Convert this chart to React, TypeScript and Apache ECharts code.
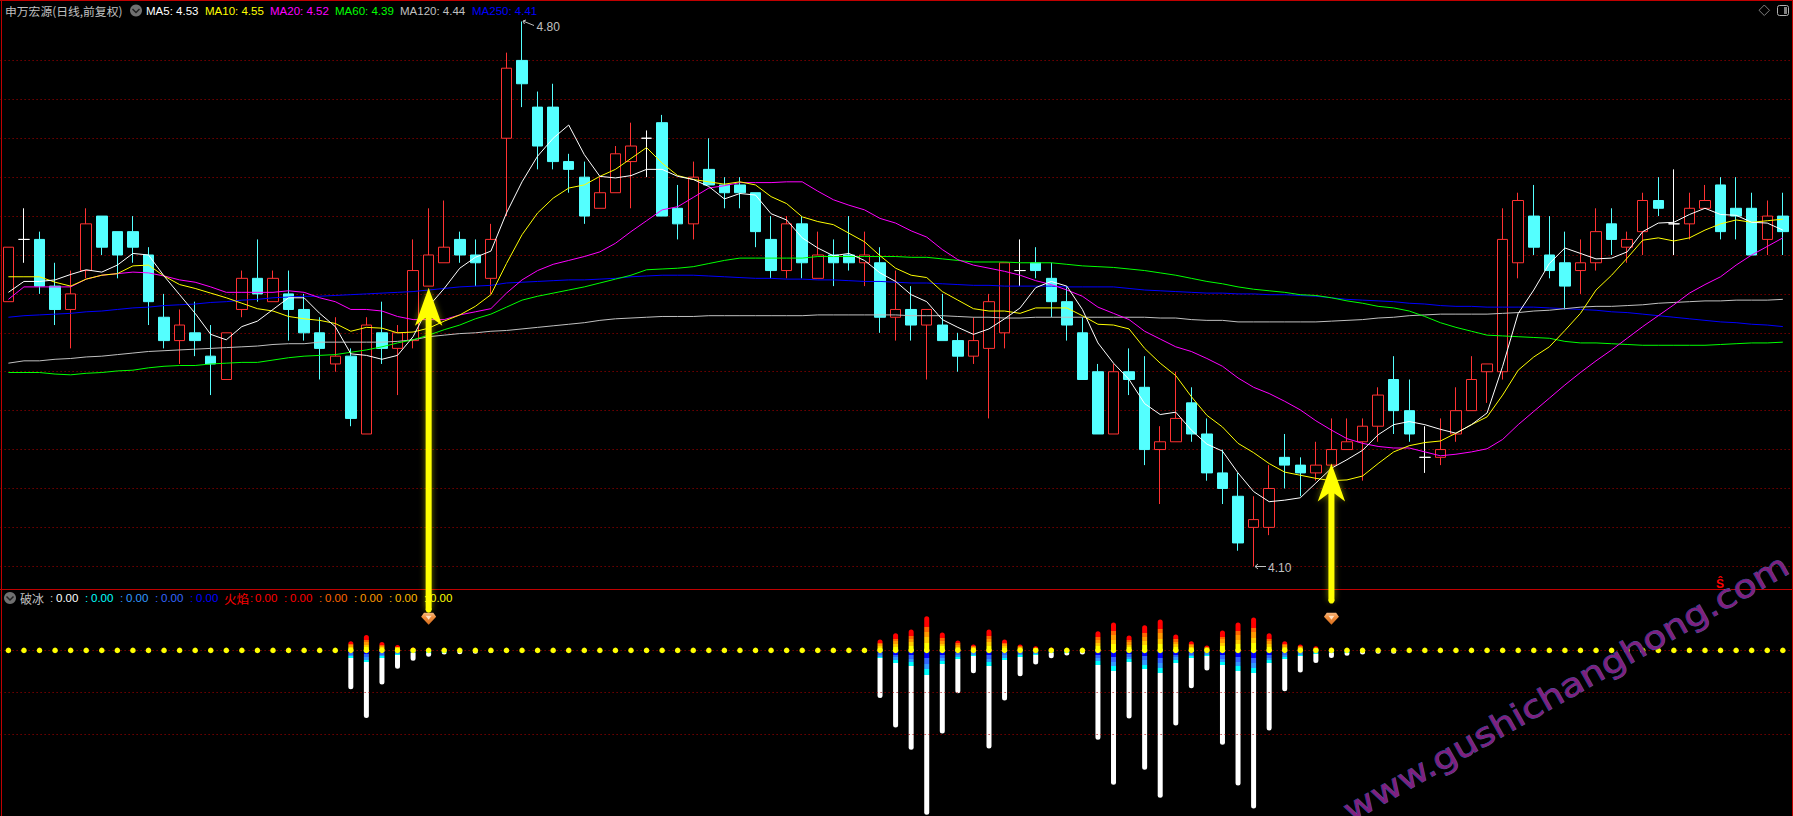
import React, { useEffect, useRef } from "react";
import * as echarts from "echarts";

const open = [4.44,4.52,4.52,4.46,4.43,4.48,4.55,4.53,4.53,4.50,4.42,4.39,4.40,4.37,4.34,4.43,4.47,4.44,4.45,4.43,4.40,4.36,4.37,4.27,4.40,4.38,4.39,4.46,4.49,4.52,4.50,4.47,4.65,4.75,4.69,4.69,4.62,4.60,4.56,4.58,4.62,4.65,4.67,4.56,4.54,4.61,4.59,4.59,4.58,4.52,4.48,4.54,4.47,4.50,4.50,4.49,4.49,4.42,4.43,4.41,4.41,4.39,4.37,4.38,4.40,4.48,4.49,4.47,4.44,4.40,4.35,4.27,4.35,4.33,4.25,4.26,4.31,4.27,4.22,4.19,4.15,4.15,4.24,4.23,4.22,4.23,4.25,4.26,4.28,4.34,4.30,4.24,4.24,4.27,4.30,4.35,4.35,4.49,4.55,4.50,4.49,4.48,4.49,4.54,4.51,4.53,4.57,4.54,4.54,4.56,4.59,4.56,4.56,4.52,4.55];
const close = [4.51,4.52,4.46,4.43,4.45,4.54,4.51,4.50,4.51,4.44,4.39,4.41,4.39,4.36,4.40,4.47,4.45,4.47,4.43,4.40,4.38,4.37,4.29,4.41,4.38,4.40,4.48,4.50,4.51,4.50,4.49,4.52,4.74,4.72,4.64,4.62,4.61,4.55,4.58,4.63,4.64,4.65,4.55,4.54,4.60,4.59,4.58,4.58,4.53,4.48,4.54,4.49,4.50,4.49,4.49,4.50,4.42,4.43,4.41,4.43,4.39,4.37,4.39,4.44,4.49,4.48,4.48,4.44,4.41,4.34,4.27,4.35,4.34,4.25,4.26,4.29,4.27,4.22,4.20,4.13,4.16,4.20,4.23,4.22,4.23,4.25,4.26,4.28,4.32,4.30,4.27,4.24,4.25,4.30,4.34,4.36,4.52,4.57,4.51,4.48,4.46,4.49,4.53,4.52,4.52,4.57,4.56,4.54,4.56,4.57,4.53,4.55,4.50,4.55,4.53];
const low = [4.44,4.49,4.45,4.41,4.38,4.47,4.50,4.47,4.49,4.41,4.38,4.36,4.37,4.32,4.34,4.42,4.44,4.44,4.39,4.39,4.34,4.35,4.28,4.27,4.36,4.32,4.38,4.46,4.49,4.49,4.46,4.45,4.55,4.69,4.61,4.61,4.58,4.54,4.56,4.58,4.56,4.60,4.55,4.52,4.52,4.59,4.56,4.56,4.51,4.47,4.47,4.47,4.47,4.46,4.48,4.46,4.40,4.39,4.39,4.34,4.39,4.35,4.36,4.29,4.38,4.46,4.47,4.42,4.39,4.34,4.27,4.27,4.32,4.23,4.18,4.26,4.26,4.21,4.18,4.12,4.10,4.14,4.20,4.19,4.21,4.23,4.25,4.21,4.26,4.27,4.26,4.22,4.23,4.26,4.30,4.31,4.34,4.47,4.50,4.47,4.43,4.45,4.48,4.50,4.49,4.50,4.55,4.50,4.52,4.56,4.52,4.52,4.50,4.50,4.50];
const high = [4.51,4.56,4.53,4.49,4.48,4.56,4.55,4.53,4.55,4.51,4.45,4.43,4.44,4.41,4.40,4.48,4.52,4.48,4.48,4.45,4.42,4.42,4.38,4.42,4.44,4.41,4.52,4.56,4.57,4.53,4.52,4.54,4.76,4.80,4.71,4.72,4.63,4.62,4.60,4.64,4.67,4.66,4.68,4.59,4.62,4.65,4.60,4.60,4.58,4.55,4.55,4.55,4.53,4.52,4.55,4.53,4.51,4.48,4.46,4.43,4.45,4.40,4.42,4.45,4.49,4.52,4.51,4.49,4.46,4.42,4.36,4.36,4.38,4.37,4.28,4.35,4.33,4.29,4.25,4.22,4.19,4.23,4.27,4.24,4.26,4.29,4.29,4.29,4.33,4.37,4.34,4.28,4.29,4.33,4.37,4.36,4.56,4.58,4.59,4.55,4.53,4.52,4.56,4.56,4.53,4.58,4.60,4.61,4.58,4.59,4.60,4.60,4.58,4.57,4.58];

const ma5 = [4.452,4.466,4.466,4.468,4.475,4.481,4.478,4.487,4.502,4.5,4.473,4.449,4.425,4.398,4.391,4.408,4.415,4.43,4.445,4.445,4.425,4.408,4.373,4.371,4.366,4.371,4.395,4.434,4.457,4.483,4.497,4.505,4.554,4.594,4.627,4.65,4.667,4.629,4.601,4.599,4.602,4.61,4.61,4.601,4.597,4.588,4.572,4.579,4.577,4.553,4.545,4.522,4.509,4.499,4.502,4.493,4.477,4.466,4.449,4.44,4.417,4.407,4.398,4.405,4.418,4.432,4.458,4.466,4.46,4.43,4.387,4.361,4.34,4.309,4.295,4.298,4.275,4.257,4.248,4.22,4.196,4.183,4.185,4.188,4.207,4.226,4.237,4.249,4.269,4.282,4.286,4.282,4.276,4.271,4.282,4.297,4.357,4.425,4.455,4.489,4.509,4.502,4.495,4.496,4.504,4.53,4.541,4.542,4.552,4.56,4.552,4.551,4.542,4.541,4.532];
const ma10 = [4.472,4.472,4.472,4.465,4.46,4.469,4.474,4.476,4.486,4.487,4.473,4.462,4.457,4.451,4.445,4.438,4.431,4.428,4.421,4.418,4.416,4.412,4.402,4.407,4.406,4.4,4.401,4.406,4.415,4.423,4.434,4.449,4.489,4.526,4.554,4.573,4.586,4.59,4.601,4.61,4.624,4.638,4.618,4.602,4.597,4.594,4.591,4.594,4.59,4.575,4.566,4.549,4.543,4.539,4.528,4.517,4.499,4.483,4.474,4.471,4.453,4.442,4.431,4.428,4.428,4.425,4.432,4.432,4.432,4.422,4.411,4.41,4.405,4.38,4.361,4.345,4.318,4.294,4.279,4.258,4.246,4.232,4.221,4.217,4.213,4.21,4.211,4.216,4.232,4.247,4.255,4.259,4.261,4.271,4.282,4.292,4.32,4.352,4.369,4.382,4.403,4.425,4.455,4.474,4.496,4.519,4.522,4.518,4.522,4.532,4.54,4.545,4.542,4.544,4.546];
const ma20 = [4.443,4.459,4.459,4.459,4.459,4.469,4.474,4.476,4.478,4.477,4.473,4.468,4.465,4.459,4.452,4.452,4.452,4.452,4.454,4.452,4.445,4.44,4.43,4.43,4.428,4.421,4.417,4.417,4.417,4.423,4.427,4.431,4.451,4.468,4.48,4.488,4.493,4.498,4.504,4.515,4.53,4.544,4.558,4.562,4.574,4.586,4.589,4.593,4.593,4.593,4.594,4.594,4.582,4.571,4.564,4.558,4.547,4.541,4.531,4.523,4.507,4.494,4.487,4.483,4.479,4.474,4.467,4.462,4.455,4.447,4.433,4.425,4.417,4.402,4.392,4.382,4.376,4.367,4.357,4.342,4.33,4.322,4.312,4.301,4.287,4.275,4.264,4.258,4.254,4.252,4.252,4.247,4.242,4.244,4.247,4.251,4.263,4.282,4.299,4.316,4.333,4.349,4.364,4.378,4.393,4.408,4.422,4.436,4.451,4.462,4.472,4.487,4.5,4.511,4.522];
const ma60 = [4.349,4.349,4.349,4.347,4.346,4.348,4.349,4.351,4.352,4.355,4.357,4.358,4.358,4.36,4.361,4.362,4.362,4.365,4.368,4.37,4.371,4.372,4.375,4.378,4.382,4.387,4.391,4.397,4.404,4.41,4.418,4.424,4.433,4.442,4.447,4.451,4.455,4.459,4.464,4.469,4.474,4.481,4.482,4.483,4.485,4.489,4.493,4.496,4.496,4.496,4.496,4.496,4.498,4.498,4.498,4.498,4.498,4.498,4.497,4.497,4.495,4.493,4.491,4.491,4.491,4.49,4.49,4.49,4.488,4.486,4.485,4.484,4.482,4.48,4.477,4.474,4.47,4.466,4.463,4.459,4.456,4.454,4.452,4.449,4.448,4.445,4.441,4.438,4.434,4.432,4.428,4.421,4.413,4.407,4.402,4.397,4.396,4.395,4.394,4.393,4.389,4.387,4.387,4.386,4.385,4.384,4.384,4.384,4.384,4.384,4.385,4.386,4.387,4.387,4.388];
const ma120 = [4.361,4.364,4.364,4.366,4.367,4.369,4.37,4.372,4.374,4.376,4.377,4.378,4.379,4.38,4.381,4.382,4.383,4.385,4.386,4.386,4.388,4.388,4.388,4.388,4.388,4.389,4.391,4.395,4.397,4.399,4.4,4.402,4.403,4.405,4.407,4.409,4.411,4.413,4.416,4.418,4.419,4.42,4.421,4.421,4.421,4.422,4.422,4.422,4.422,4.422,4.422,4.422,4.423,4.423,4.423,4.423,4.423,4.423,4.422,4.422,4.422,4.421,4.42,4.42,4.419,4.419,4.42,4.42,4.42,4.42,4.42,4.42,4.42,4.42,4.419,4.419,4.417,4.416,4.416,4.414,4.414,4.414,4.414,4.414,4.414,4.415,4.416,4.417,4.419,4.42,4.422,4.423,4.424,4.424,4.424,4.424,4.425,4.426,4.428,4.429,4.431,4.433,4.434,4.434,4.435,4.436,4.438,4.439,4.44,4.441,4.441,4.442,4.442,4.442,4.443];
const ma250 = [4.42,4.422,4.423,4.424,4.425,4.427,4.428,4.43,4.432,4.433,4.435,4.436,4.437,4.439,4.44,4.442,4.443,4.445,4.446,4.447,4.447,4.448,4.449,4.45,4.451,4.452,4.453,4.455,4.457,4.459,4.46,4.461,4.464,4.465,4.466,4.467,4.468,4.468,4.469,4.47,4.472,4.473,4.474,4.474,4.474,4.473,4.472,4.471,4.47,4.47,4.469,4.469,4.468,4.468,4.467,4.466,4.466,4.465,4.464,4.464,4.463,4.462,4.461,4.461,4.46,4.46,4.46,4.46,4.459,4.459,4.459,4.459,4.457,4.455,4.454,4.453,4.452,4.451,4.451,4.45,4.45,4.449,4.449,4.448,4.447,4.445,4.443,4.442,4.441,4.44,4.438,4.437,4.435,4.434,4.434,4.433,4.433,4.433,4.433,4.432,4.431,4.43,4.429,4.427,4.426,4.424,4.422,4.42,4.418,4.416,4.414,4.413,4.411,4.41,4.408];

const dojiIndex = [1, 41, 65, 91, 107];

// lower panel: 破冰 / 火焰 columns
const barIndex = [22,23,24,25,26,27,28,29,30,31,56,57,58,59,60,61,62,63,64,65,66,67,68,69,70,71,72,73,74,75,76,77,78,79,80,81,82,83,84,85,86,87,88,89];
const fireValues = [2.2,3.7,2.0,1.3,0.7,0.6,0.5,0,0,0,2.6,4.1,5.0,8.2,4.3,2.4,1.4,5.0,2.6,1.4,1.0,0.7,0.5,0.4,4.6,6.7,3.6,6.0,7.4,3.8,2.2,1.2,4.8,6.7,7.9,4.1,2.2,1.4,1.0,0.7,0.5,0,0,0];
const iceValues = [9.3,16.2,8.2,4.4,2.5,1.5,1.0,0.9,0.8,0.6,11.4,18.5,23.8,39.4,19.9,10.3,5.5,23.5,12.0,6.2,3.4,1.9,1.2,1.0,21.4,32.2,16.3,28.6,35.3,18.0,9.1,4.8,22.6,32.4,37.9,19.2,9.8,5.3,3.0,1.8,1.3,1.0,0.8,0.8];
const iceColoured = [1.8,2.8,1.8,1.1,0.7,0.6,0.6,0.5,0.5,0.4,1.9,3.0,3.7,5.8,3.2,2.0,1.3,3.7,2.2,1.5,1.0,0.7,0.6,0.5,3.4,4.9,2.7,4.4,5.4,3.0,1.8,1.3,3.6,4.9,5.5,3.1,2.0,1.3,0.9,0.7,0.6,0.5,0.4,0.4];
const markerIndex = [27, 85];
const markerLevel = 7.6;
const arrowTips = [4.458, 4.232];
const arrowTails = [322, 137];

const legendMA = [
  { text: "MA5: 4.53", x: 146, color: "#FFFFFF" },
  { text: "MA10: 4.55", x: 205, color: "#FFFF00" },
  { text: "MA20: 4.52", x: 270, color: "#FF00FF" },
  { text: "MA60: 4.39", x: 335, color: "#00FF00" },
  { text: "MA120: 4.44", x: 400, color: "#C0C0C0" },
  { text: "MA250: 4.41", x: 472, color: "#0000FF" },
];
const legendIce = [
  { text: "0.00", x: 56, color: "#FFFFFF" },
  { text: "0.00", x: 91, color: "#00FFFF" },
  { text: "0.00", x: 126, color: "#3399FF" },
  { text: "0.00", x: 161, color: "#3366FF" },
  { text: "0.00", x: 196, color: "#0000FF" },
];
const legendFire = [
  { text: "0.00", x: 255, color: "#FF0000" },
  { text: "0.00", x: 290, color: "#FF0000" },
  { text: "0.00", x: 325, color: "#FF6600" },
  { text: "0.00", x: 360, color: "#FF9900" },
  { text: "0.00", x: 395, color: "#FFBB00" },
  { text: "0.00", x: 430, color: "#FFFF00" },
];

const categories = open.map((_, i) => String(i + 1));
const RED = "#FF3232";
const CYAN = "#54FFFF";
const GRID_RED = "#B00000";
const LATIN = '"Liberation Sans", Arial, sans-serif';
const CJK = '"Noto Sans CJK SC", sans-serif';

function hardStops(stops: [number, string][]) {
  const out: { offset: number; color: string }[] = [];
  let from = 0;
  for (const [to, color] of stops) {
    out.push({ offset: from, color }, { offset: to, color });
    from = to;
  }
  return out;
}

function fireColor() {
  return new echarts.graphic.LinearGradient(0, 0, 0, 1, hardStops([
    [0.31, "#FF0000"], [0.45, "#FF6600"], [0.62, "#FF9900"], [0.78, "#FFCC00"], [1, "#FFFF00"],
  ]));
}
function iceColor(total: number, coloured: number) {
  const f = Math.min(1, coloured / total);
  return new echarts.graphic.LinearGradient(0, 0, 0, 1, hardStops([
    [f * 0.33, "#0000FF"], [f * 0.55, "#3366FF"], [f * 0.78, "#3399FF"], [f, "#00FFFF"], [1, "#FFFFFF"],
  ]));
}

function label(text: string, x: number, y: number, fill: string, font = `12px ${LATIN}`, extra: any = {}) {
  return { type: "text", x, y, z: 5, silent: true, style: { text, fill, font, textVerticalAlign: "middle", textBaseline: "middle" }, ...extra };
}
function rule(x1: number, y1: number, x2: number, y2: number, stroke: string, lineWidth = 1) {
  return { type: "line", z: 4, silent: true, shape: { x1, y1, x2, y2 }, style: { stroke, lineWidth } };
}

function lineSeries(name: string, data: number[], color: string) {
  return {
    name, type: "line", data, xAxisIndex: 0, yAxisIndex: 0, showSymbol: false, symbol: "none",
    smooth: false, clip: false, z: 4, silent: true, lineStyle: { color, width: 1 },
  };
}

export default function App() {
  const ref = useRef<HTMLDivElement>(null);
  useEffect(() => {
    document.body.style.margin = "0";
    document.body.style.background = "#000";
    const chart = echarts.init(ref.current!, null, { renderer: "svg" });

    const candleData = open.map((o, i) => {
      const value = [o, close[i], low[i], high[i]];
      if (dojiIndex.includes(i)) {
        return { value, itemStyle: { color: "#FFFFFF", color0: "#FFFFFF", borderColor: "#FFFFFF", borderColor0: "#FFFFFF", borderColorDoji: "#FFFFFF" } };
      }
      return value;
    });
    const fireSeries: any[] = categories.map(() => null);
    const iceSeries: any[] = categories.map(() => null);
    barIndex.forEach((idx, k) => {
      if (fireValues[k] > 0) fireSeries[idx] = { value: fireValues[k], itemStyle: { color: fireColor() } };
      iceSeries[idx] = { value: -iceValues[k], itemStyle: { color: iceColor(iceValues[k], iceColoured[k]) } };
    });

    const graphicEls: any[] = [
      // frame
      rule(0, 0.5, 1793, 0.5, "#C00000"),
      rule(1.5, 0, 1.5, 816, "#C00000"),
      rule(1792.5, 0, 1792.5, 816, "#C00000"),
      rule(0, 589.5, 1793, 589.5, "#C00000"),
      // header
      label("申万宏源(日线,前复权)", 5, 10.5, "#C0C0C0", `11.8px ${CJK}`),
      { type: "circle", z: 5, silent: true, shape: { cx: 136, cy: 10.5, r: 6 }, style: { fill: "#707070" } },
      { type: "polyline", z: 6, silent: true, shape: { points: [[132.5, 9], [136, 12.5], [139.5, 9]] }, style: { stroke: "#202020", lineWidth: 1.5, fill: "none" } },
      ...legendMA.map((m) => label(m.text, m.x, 10.5, m.color, `11.5px ${LATIN}`)),
      // top right icons
      { type: "polygon", z: 5, silent: true, shape: { points: [[1764.3, 5], [1769.5, 10.3], [1764.3, 15.5], [1759, 10.3]] }, style: { stroke: "#808080", fill: "none", lineWidth: 1 } },
      { type: "rect", z: 5, silent: true, shape: { x: 1777.5, y: 5.5, width: 11, height: 10, r: 2 }, style: { stroke: "#B0B0B0", fill: "none", lineWidth: 1 } },
      { type: "rect", z: 5, silent: true, shape: { x: 1784, y: 7, width: 3, height: 7 }, style: { fill: "#808080" } },
      // lower header
      { type: "circle", z: 5, silent: true, shape: { cx: 10, cy: 598, r: 6 }, style: { fill: "#707070" } },
      { type: "polyline", z: 6, silent: true, shape: { points: [[6.5, 596.5], [10, 600], [13.5, 596.5]] }, style: { stroke: "#202020", lineWidth: 1.5, fill: "none" } },
      label("破冰", 20, 598, "#C0C0C0", `12px ${CJK}`),
      label(":", 50, 598, "#C0C0C0", `11.5px ${LATIN}`),
      ...legendIce.flatMap((m) => [label(":", m.x - 6, 598, m.color, `11.5px ${LATIN}`), label(m.text, m.x, 598, m.color, `11.5px ${LATIN}`)]).slice(1),
      label("火焰", 224, 598, "#FF0000", `12.5px ${CJK}`),
      label(":", 250, 598, "#FF0000", `11.5px ${LATIN}`),
      ...legendFire.flatMap((m) => [label(":", m.x - 6, 598, m.color, `11.5px ${LATIN}`), label(m.text, m.x, 598, m.color, `11.5px ${LATIN}`)]).slice(1),
      // extreme price labels
      label("4.80", 536.5, 27, "#C0C0C0", `12px ${LATIN}`),
      rule(523, 21, 534, 25.5, "#C0C0C0"),
      { type: "polyline", z: 5, silent: true, shape: { points: [[526, 20], [523, 21], [524.5, 24]] }, style: { stroke: "#C0C0C0", fill: "none", lineWidth: 1 } },
      label("4.10", 1268, 568, "#C0C0C0", `12px ${LATIN}`),
      rule(1255, 566.5, 1266, 566.5, "#C0C0C0"),
      { type: "polyline", z: 5, silent: true, shape: { points: [[1258, 564], [1255, 566.5], [1258, 569]] }, style: { stroke: "#C0C0C0", fill: "none", lineWidth: 1 } },
      label("Ŝ", 1716, 584, "#FF0000", `bold 12px ${LATIN}`),
      // site watermark
      {
        type: "text", z: 50, silent: true, x: 1566, y: 688, rotation: 0.517, scaleX: 1.18, scaleY: 1,
        style: {
          text: "www.gushichanghong.com", fill: "#80207F", stroke: "#3E5AA8", lineWidth: 0.8,
          font: `32px "DejaVu Sans", sans-serif`, textAlign: "center", textVerticalAlign: "middle", textBaseline: "middle",
        },
      },
    ];

    chart.setOption({
      animation: false,
      backgroundColor: "#000000",
      grid: [
        { left: 0.6, top: 21.5, width: 1790, height: 544.8 },
        { left: 0.6, top: 589.5, width: 1790, height: 226.5 },
      ],
      xAxis: [
        { type: "category", gridIndex: 0, data: categories, show: false, boundaryGap: true },
        { type: "category", gridIndex: 1, data: categories, show: false, boundaryGap: true },
      ],
      yAxis: [
        {
          type: "value", gridIndex: 0, min: 4.1, max: 4.8, interval: 0.05, scale: true,
          axisLine: { show: false }, axisTick: { show: false }, axisLabel: { show: false },
          splitLine: { show: true, showMaxLine: false, lineStyle: { color: GRID_RED, type: [1, 3], width: 1 } },
        },
        {
          type: "value", gridIndex: 1, min: -39.7, max: 14.6,
          axisLine: { show: false }, axisTick: { show: false }, axisLabel: { show: false }, splitLine: { show: false },
        },
      ],
      series: [
        {
          type: "candlestick", xAxisIndex: 0, yAxisIndex: 0, data: candleData, barWidth: 11, clip: false, z: 3, silent: true,
          itemStyle: { color: "#000000", color0: CYAN, borderColor: RED, borderColor0: CYAN, borderWidth: 1 },
        },
        lineSeries("MA250", ma250, "#0000FF"),
        lineSeries("MA120", ma120, "#C0C0C0"),
        lineSeries("MA60", ma60, "#00FF00"),
        lineSeries("MA20", ma20, "#FF00FF"),
        lineSeries("MA10", ma10, "#FFFF00"),
        lineSeries("MA5", ma5, "#FFFFFF"),
        {
          type: "custom", xAxisIndex: 0, yAxisIndex: 0, z: 20, silent: true, clip: false,
          data: markerIndex.map((idx, k) => [idx, arrowTips[k], arrowTails[k]]),
          encode: { x: 0, y: 1 },
          renderItem: (_: any, api: any) => {
            const [x, y] = api.coord([api.value(0), api.value(1)]);
            const tail = api.value(2);
            const glow = { fill: "#FFFF00", shadowBlur: 6, shadowColor: "rgba(255,255,0,0.45)" };
            return {
              type: "group",
              children: [
                {
                  type: "polygon",
                  shape: {
                    points: [
                      [x, y], [x + 13.7, y + 38], [x + 3, y + 30], [x + 3, y + tail],
                      [x - 3, y + tail], [x - 3, y + 30], [x - 13.7, y + 38],
                    ],
                  },
                  style: glow,
                },
                { type: "circle", shape: { cx: x, cy: y + tail, r: 3 }, style: { fill: "#FFFF00" } },
              ],
            };
          },
        },
        {
          type: "bar", xAxisIndex: 1, yAxisIndex: 1, data: iceSeries, barWidth: 5, barGap: "-100%", z: 3, silent: true,
          itemStyle: { borderRadius: [0, 0, 2.5, 2.5] },
          markLine: {
            silent: true, symbol: "none", label: { show: false }, animation: false,
            lineStyle: { color: GRID_RED, type: [1, 3], width: 1 },
            data: [{ yAxis: 0 }, { yAxis: -10 }, { yAxis: -20 }],
          },
        },
        {
          type: "bar", xAxisIndex: 1, yAxisIndex: 1, data: fireSeries, barWidth: 5, barGap: "-100%", z: 4, silent: true,
          itemStyle: { borderRadius: [2.5, 2.5, 0, 0] },
        },
        {
          type: "scatter", xAxisIndex: 1, yAxisIndex: 1, data: categories.map((_, i) => [i, 0]), symbol: "circle",
          symbolSize: 5.5, z: 6, silent: true, itemStyle: { color: "#FFFF00", opacity: 1 },
        },
        {
          type: "scatter", xAxisIndex: 1, yAxisIndex: 1, data: markerIndex.map((i) => [i, markerLevel]),
          symbol: "path://M3,0 L13,0 L16,4 L8,12 L0,4 Z", symbolSize: [15, 12], z: 7, silent: true, clip: false,
          itemStyle: {
            opacity: 1,
            color: new echarts.graphic.LinearGradient(0, 0, 0, 1, [
              { offset: 0, color: "#F5B880" }, { offset: 0.4, color: "#EE8C3C" }, { offset: 1, color: "#D8701E" },
            ]),
          },
        },
        {
          type: "scatter", xAxisIndex: 1, yAxisIndex: 1, data: markerIndex.map((i) => [i, markerLevel + 0.25]),
          symbol: "path://M2,0 L8,0 L5,4 Z", symbolSize: [6, 4], z: 8, silent: true, clip: false,
          itemStyle: { color: "#FFE0C0", opacity: 1 },
        },
      ],
      graphic: { elements: graphicEls },
    });
    return () => chart.dispose();
  }, []);
  return <div ref={ref} style={{ position: "fixed", left: 0, top: 0, width: 1793, height: 816, background: "#000" }} />;
}
